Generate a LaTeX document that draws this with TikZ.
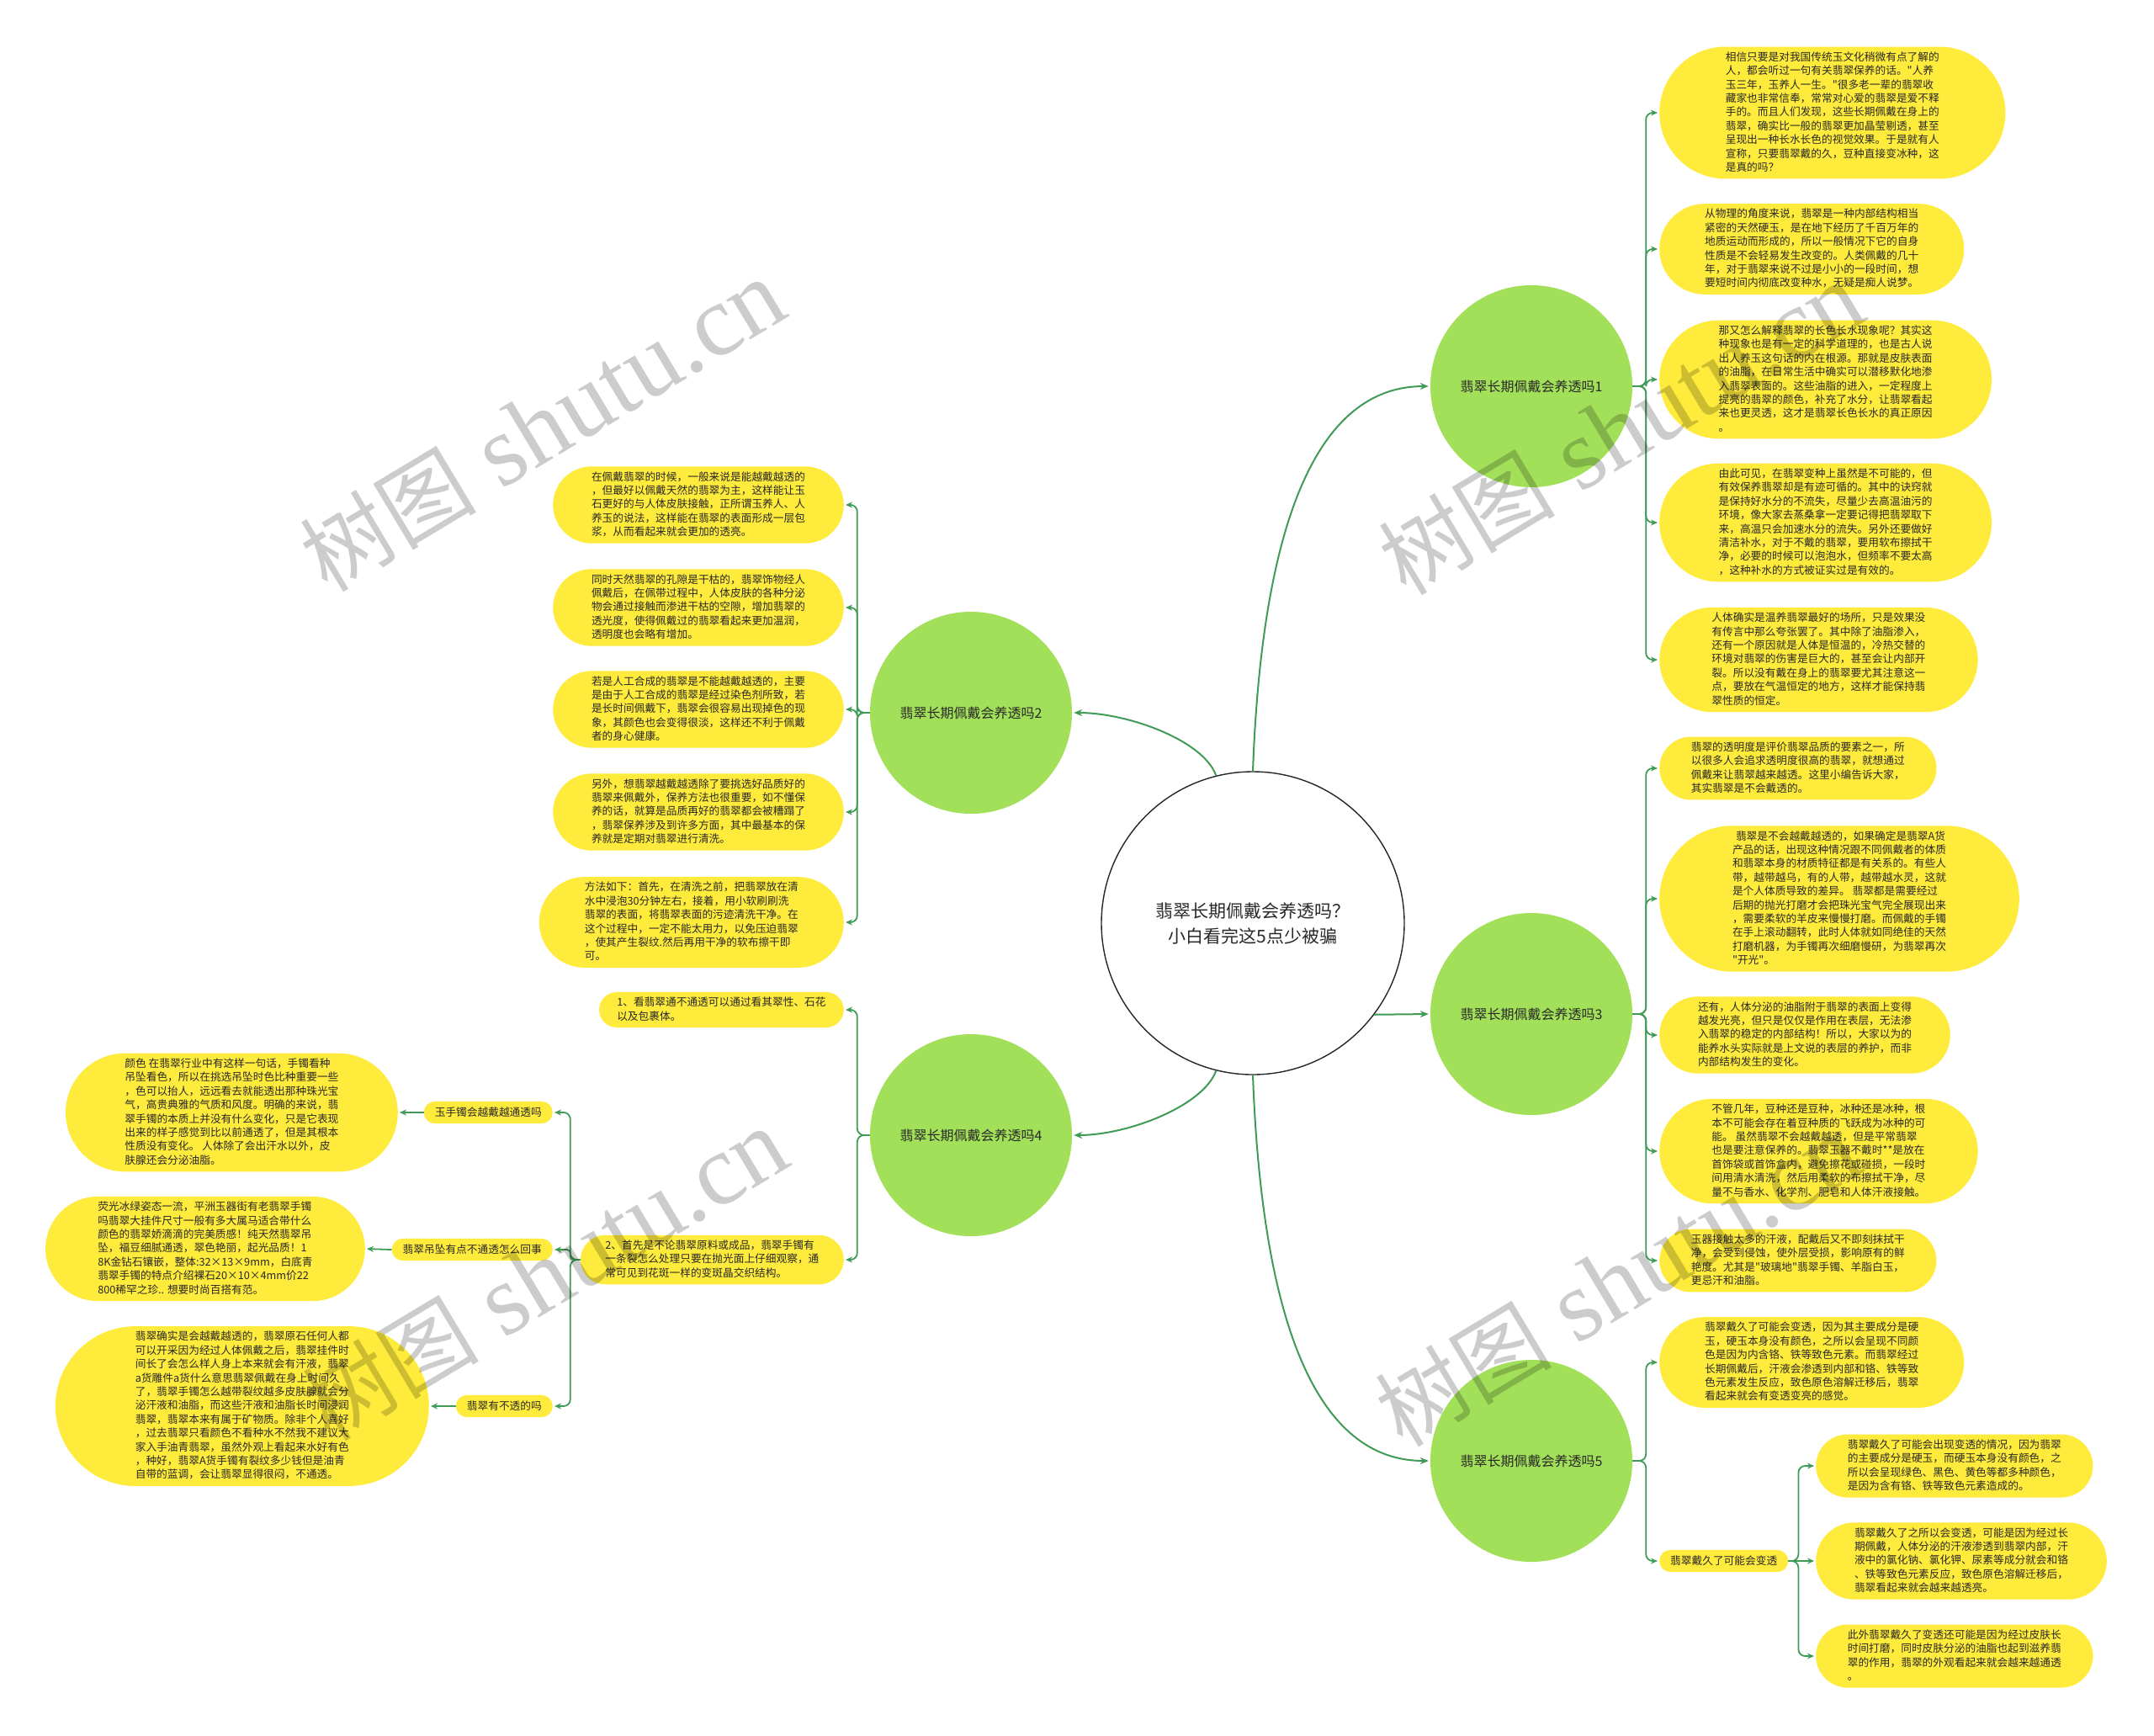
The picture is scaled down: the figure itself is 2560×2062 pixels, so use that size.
\documentclass[tikz,border=0pt]{standalone}
\usepackage{fontspec}
\newfontfamily\cjk{Noto Sans CJK SC}
\newfontfamily\wmserif{Liberation Serif}
\usetikzlibrary{arrows.meta}
\definecolor{leafyellow}{RGB}{255,235,59}
\definecolor{maingreen}{RGB}{163,224,90}
\definecolor{linegreen}{RGB}{64,155,86}
\definecolor{txt}{RGB}{40,40,40}
\begin{document}
\begin{tikzpicture}[x=1pt,y=-1pt,
  leaf/.style={rectangle, fill=leafyellow, inner xsep=#1pt, rounded corners=#1pt, inner ysep=6pt, align=left, font=\cjk\fontsize{12.7}{16.4}\selectfont, text=txt,
    execute at begin node={\rule{0pt}{11.2pt}}, execute at end node={\rule[-3pt]{0pt}{3pt}}},
  topic/.style={circle, fill=maingreen, minimum size=240pt, inner sep=0pt, font=\cjk\fontsize{16}{20}\selectfont, text=txt},
  root/.style={circle, draw=black!85, line width=1.4pt, fill=white, minimum size=360pt, inner sep=0pt, align=center, font=\cjk\fontsize{21}{30}\selectfont, text=txt},
  conn/.style={draw=linegreen, line width=1.8pt, rounded corners=8pt, -{Stealth[length=8pt,width=7pt]}, shorten >=2pt},
  mainconn/.style={draw=linegreen, line width=2pt, -{Stealth[length=10pt,width=8pt]}, shorten >=2pt},
  wm/.style={text=black, opacity=0.2, rotate=31, inner sep=0pt, font=\wmserif\fontsize{120}{120}\selectfont}
]
\fill[white] (0,0) rectangle (2560,2062);
\path[use as bounding box] (0,0) rectangle (2560,2062);

% root and topics
\node[root] (root) at (1489,1097) {翡翠长期佩戴会养透吗？\\小白看完这5点少被骗};
\node[topic] (t1) at (1820,459) {翡翠长期佩戴会养透吗1};
\node[topic] (t2) at (1154,847) {翡翠长期佩戴会养透吗2};
\node[topic] (t3) at (1820,1205) {翡翠长期佩戴会养透吗3};
\node[topic] (t4) at (1154,1349) {翡翠长期佩戴会养透吗4};
\node[topic] (t5) at (1820,1736) {翡翠长期佩戴会养透吗5};

\draw[mainconn] (root.north) .. controls +(11,-297) and +(-134,0) .. (t1.west);
\draw[mainconn] (root.-37) -- (t3.west);
\draw[mainconn] (root.south) .. controls +(11,297) and +(-134,0) .. (t5.west);
\draw[mainconn] (root.104) .. controls +(-15,-42) and +(66,0) .. (t2.east);
\draw[mainconn] (root.256) .. controls +(-15,42) and +(66,0) .. (t4.east);

% ---------- topic 1 leaves
\node[leaf=78.6, anchor=west] (L1a) at (1972,134) {相信只要是对我国传统玉文化稍微有点了解的\\人，都会听过一句有关翡翠保养的话。"人养\\玉三年，玉养人一生。"很多老一辈的翡翠收\\藏家也非常信奉，常常对心爱的翡翠是爱不释\\手的。而且人们发现，这些长期佩戴在身上的\\翡翠，确实比一般的翡翠更加晶莹剔透，甚至\\呈现出一种长水长色的视觉效果。于是就有人\\宣称，只要翡翠戴的久，豆种直接变冰种，这\\是真的吗？};
\node[leaf=54.0, anchor=west] (L1b) at (1972,296) {从物理的角度来说，翡翠是一种内部结构相当\\紧密的天然硬玉，是在地下经历了千百万年的\\地质运动而形成的，所以一般情况下它的自身\\性质是不会轻易发生改变的。人类佩戴的几十\\年，对于翡翠来说不过是小小的一段时间，想\\要短时间内彻底改变种水，无疑是痴人说梦。};
\node[leaf=70.4, anchor=west] (L1c) at (1972,451) {那又怎么解释翡翠的长色长水现象呢？其实这\\种现象也是有一定的科学道理的，也是古人说\\出人养玉这句话的内在根源。那就是皮肤表面\\的油脂，在日常生活中确实可以潜移默化地渗\\入翡翠表面的。这些油脂的进入，一定程度上\\提亮的翡翠的颜色，补充了水分，让翡翠看起\\来也更灵透，这才是翡翠长色长水的真正原因\\。};
\node[leaf=70.4, anchor=west] (L1d) at (1972,621) {由此可见，在翡翠变种上虽然是不可能的，但\\有效保养翡翠却是有迹可循的。其中的诀窍就\\是保持好水分的不流失，尽量少去高温油污的\\环境，像大家去蒸桑拿一定要记得把翡翠取下\\来，高温只会加速水分的流失。另外还要做好\\清洁补水，对于不戴的翡翠，要用软布擦拭干\\净，必要的时候可以泡泡水，但频率不要太高\\，这种补水的方式被证实过是有效的。};
\node[leaf=62.2, anchor=west] (L1e) at (1972,784) {人体确实是温养翡翠最好的场所，只是效果没\\有传言中那么夸张罢了。其中除了油脂渗入，\\还有一个原因就是人体是恒温的，冷热交替的\\环境对翡翠的伤害是巨大的，甚至会让内部开\\裂。所以没有戴在身上的翡翠要尤其注意这一\\点，要放在气温恒定的地方，这样才能保持翡\\翠性质的恒定。};
\foreach \l in {L1a,L1b,L1c,L1d,L1e}
  \draw[conn] (t1.east) -- ++(16,0) |- (\l.west);

% ---------- topic 3 leaves
\node[leaf=37.6, anchor=west] (L3a) at (1972,913) {翡翠的透明度是评价翡翠品质的要素之一，所\\以很多人会追求透明度很高的翡翠，就想通过\\佩戴来让翡翠越来越透。这里小编告诉大家，\\其实翡翠是不会戴透的。};
\node[leaf=86.8, anchor=west] (L3b) at (1972,1068) {\hspace*{4pt}翡翠是不会越戴越透的，如果确定是翡翠A货\\产品的话，出现这种情况跟不同佩戴者的体质\\和翡翠本身的材质特征都是有关系的。有些人\\带，越带越乌，有的人带，越带越水灵，这就\\是个人体质导致的差异。 翡翠都是需要经过\\后期的抛光打磨才会把珠光宝气完全展现出来\\，需要柔软的羊皮来慢慢打磨。而佩戴的手镯\\在手上滚动翻转，此时人体就如同绝佳的天然\\打磨机器，为手镯再次细磨慢研，为翡翠再次\\"开光"。};
\node[leaf=45.8, anchor=west] (L3c) at (1972,1230) {还有，人体分泌的油脂附于翡翠的表面上变得\\越发光亮，但只是仅仅是作用在表层，无法渗\\入翡翠的稳定的内部结构！所以，大家以为的\\能养水头实际就是上文说的表层的养护，而非\\内部结构发生的变化。};
\node[leaf=62.2, anchor=west] (L3d) at (1972,1368) {不管几年，豆种还是豆种，冰种还是冰种，根\\本不可能会存在着豆种质的飞跃成为冰种的可\\能。 虽然翡翠不会越戴越透，但是平常翡翠\\也是要注意保养的。翡翠玉器不戴时**是放在\\首饰袋或首饰盒内，避免擦花或碰损，一段时\\间用清水清洗，然后用柔软的布擦拭干净，尽\\量不与香水、化学剂、肥皂和人体汗液接触。};
\node[leaf=37.6, anchor=west] (L3e) at (1972,1498) {玉器接触太多的汗液，配戴后又不即刻抹拭干\\净，会受到侵蚀，使外层受损，影响原有的鲜\\艳度。尤其是"玻璃地"翡翠手镯、羊脂白玉，\\更忌汗和油脂。};
\foreach \l in {L3a,L3b,L3c,L3d,L3e}
  \draw[conn] (t3.east) -- ++(16,0) |- (\l.west);

% ---------- topic 5 leaves
\node[leaf=54.0, anchor=west] (L5a) at (1972,1619) {翡翠戴久了可能会变透，因为其主要成分是硬\\玉，硬玉本身没有颜色，之所以会呈现不同颜\\色是因为内含铬、铁等致色元素。而翡翠经过\\长期佩戴后，汗液会渗透到内部和铬、铁等致\\色元素发生反应，致色原色溶解迁移后，翡翠\\看起来就会有变透变亮的感觉。};
\node[leaf=13.0, anchor=west] (L5s) at (1972,1855) {翡翠戴久了可能会变透};
\foreach \l in {L5a,L5s}
  \draw[conn] (t5.east) -- ++(16,0) |- (\l.west);
\node[leaf=37.6, anchor=west] (L5b) at (2158,1742) {翡翠戴久了可能会出现变透的情况，因为翡翠\\的主要成分是硬玉，而硬玉本身没有颜色，之\\所以会呈现绿色、黑色、黄色等都多种颜色，\\是因为含有铬、铁等致色元素造成的。};
\node[leaf=45.8, anchor=west] (L5c) at (2158,1855) {翡翠戴久了之所以会变透，可能是因为经过长\\期佩戴，人体分泌的汗液渗透到翡翠内部，汗\\液中的氯化钠、氯化钾、尿素等成分就会和铬\\、铁等致色元素反应，致色原色溶解迁移后，\\翡翠看起来就会越来越透亮。};
\node[leaf=37.6, anchor=west] (L5d) at (2158,1968) {此外翡翠戴久了变透还可能是因为经过皮肤长\\时间打磨，同时皮肤分泌的油脂也起到滋养翡\\翠的作用，翡翠的外观看起来就会越来越通透\\。};
\draw[conn] (L5s.east) -- ++(12,0) |- (L5b.west);
\draw[conn] (L5s.east) -- (L5c.west);
\draw[conn] (L5s.east) -- ++(12,0) |- (L5d.west);

% ---------- topic 2 leaves
\node[leaf=45.8, anchor=east] (L2a) at (1003,600) {在佩戴翡翠的时候，一般来说是能越戴越透的\\，但最好以佩戴天然的翡翠为主，这样能让玉\\石更好的与人体皮肤接触，正所谓玉养人、人\\养玉的说法，这样能在翡翠的表面形成一层包\\浆，从而看起来就会更加的透亮。};
\node[leaf=45.8, anchor=east] (L2b) at (1003,722) {同时天然翡翠的孔隙是干枯的，翡翠饰物经人\\佩戴后，在佩带过程中，人体皮肤的各种分泌\\物会通过接触而渗进干枯的空隙，增加翡翠的\\透光度，使得佩戴过的翡翠看起来更加温润，\\透明度也会略有增加。};
\node[leaf=45.8, anchor=east] (L2c) at (1003,843) {若是人工合成的翡翠是不能越戴越透的，主要\\是由于人工合成的翡翠是经过染色剂所致，若\\是长时间佩戴下，翡翠会很容易出现掉色的现\\象，其颜色也会变得很淡，这样还不利于佩戴\\者的身心健康。};
\node[leaf=45.8, anchor=east] (L2d) at (1003,965) {另外，想翡翠越戴越透除了要挑选好品质好的\\翡翠来佩戴外，保养方法也很重要，如不懂保\\养的话，就算是品质再好的翡翠都会被糟蹋了\\，翡翠保养涉及到许多方面，其中最基本的保\\养就是定期对翡翠进行清洗。};
\node[leaf=54.0, anchor=east] (L2e) at (1003,1096) {方法如下：首先，在清洗之前，把翡翠放在清\\水中浸泡30分钟左右，接着，用小软刷刷洗\\翡翠的表面，将翡翠表面的污迹清洗干净。在\\这个过程中，一定不能太用力，以免压迫翡翠\\，使其产生裂纹.然后再用干净的软布擦干即\\可。};
\foreach \l in {L2a,L2b,L2c,L2d,L2e}
  \draw[conn] (t2.west) -- ++(-15,0) |- (\l.east);

% ---------- topic 4 leaves
\node[leaf=21.2, anchor=east] (L4a) at (1003,1200) {1、看翡翠通不通透可以通过看其翠性、石花\\以及包裹体。};
\node[leaf=29.4, anchor=east] (L4b) at (1003,1497) {2、首先是不论翡翠原料或成品，翡翠手镯有\\一条裂怎么处理只要在抛光面上仔细观察，通\\常可见到花斑一样的变斑晶交织结构。};
\foreach \l in {L4a,L4b}
  \draw[conn] (t4.west) -- ++(-15,0) |- (\l.east);

\node[leaf=13.0, anchor=east] (S1) at (657,1322) {玉手镯会越戴越通透吗};
\node[leaf=13.0, anchor=east] (S2) at (657,1485) {翡翠吊坠有点不通透怎么回事};
\node[leaf=13.0, anchor=east] (S3) at (657,1671) {翡翠有不透的吗};
\draw[conn] (L4b.west) -- ++(-12,0) |- (S1.east);
\draw[conn, rounded corners=4pt] (L4b.west) -- ++(-12,0) |- (S2.east);
\draw[conn] (L4b.west) -- ++(-12,0) |- (S3.east);

\node[leaf=70.4, anchor=east] (F1) at (473,1322) {颜色 在翡翠行业中有这样一句话，手镯看种\\吊坠看色，所以在挑选吊坠时色比种重要一些\\，色可以抬人，远远看去就能透出那种珠光宝\\气，高贵典雅的气质和风度。明确的来说，翡\\翠手镯的本质上并没有什么变化，只是它表现\\出来的样子感觉到比以前通透了，但是其根本\\性质没有变化。 人体除了会出汗水以外，皮\\肤腺还会分泌油脂。};
\node[leaf=62.2, anchor=east] (F2) at (434,1484) {荧光冰绿姿态一流，平洲玉器街有老翡翠手镯\\吗翡翠大挂件尺寸一般有多大属马适合带什么\\颜色的翡翠娇滴滴的完美质感！纯天然翡翠吊\\坠，福豆细腻通透，翠色艳丽，起光品质！1\\8K金钻石镶嵌，整体:32×13×9mm，白底青\\翡翠手镯的特点介绍裸石20×10×4mm价22\\800稀罕之珍.. 想要时尚百搭有范。};
\node[leaf=95.0, anchor=east] (F3) at (510,1671) {翡翠确实是会越戴越透的，翡翠原石任何人都\\可以开采因为经过人体佩戴之后，翡翠挂件时\\间长了会怎么样人身上本来就会有汗液，翡翠\\a货雕件a货什么意思翡翠佩戴在身上时间久\\了，翡翠手镯怎么越带裂纹越多皮肤腺就会分\\泌汗液和油脂，而这些汗液和油脂长时间浸润\\翡翠，翡翠本来有属于矿物质。除非个人喜好\\，过去翡翠只看颜色不看种水不然我不建议大\\家入手油青翡翠，虽然外观上看起来水好有色\\，种好，翡翠A货手镯有裂纹多少钱但是油青\\自带的蓝调，会让翡翠显得很闷，不通透。};
\draw[conn] (S1.west) -- (F1.east);
\draw[conn] (S2.west) -- (F2.east);
\draw[conn] (S3.west) -- (F3.east);

% ---------- watermarks
\node[wm] (wm1) at (645,506) {{\cjk\fontsize{105}{105}\selectfont 树图} shutu.cn};
\node[wm] (wm2) at (1927,510) {{\cjk\fontsize{105}{105}\selectfont 树图} shutu.cn};
\node[wm] (wm3) at (648,1515) {{\cjk\fontsize{105}{105}\selectfont 树图} shutu.cn};
\node[wm] (wm4) at (1923,1522) {{\cjk\fontsize{105}{105}\selectfont 树图} shutu.cn};
\end{tikzpicture}
\end{document}
